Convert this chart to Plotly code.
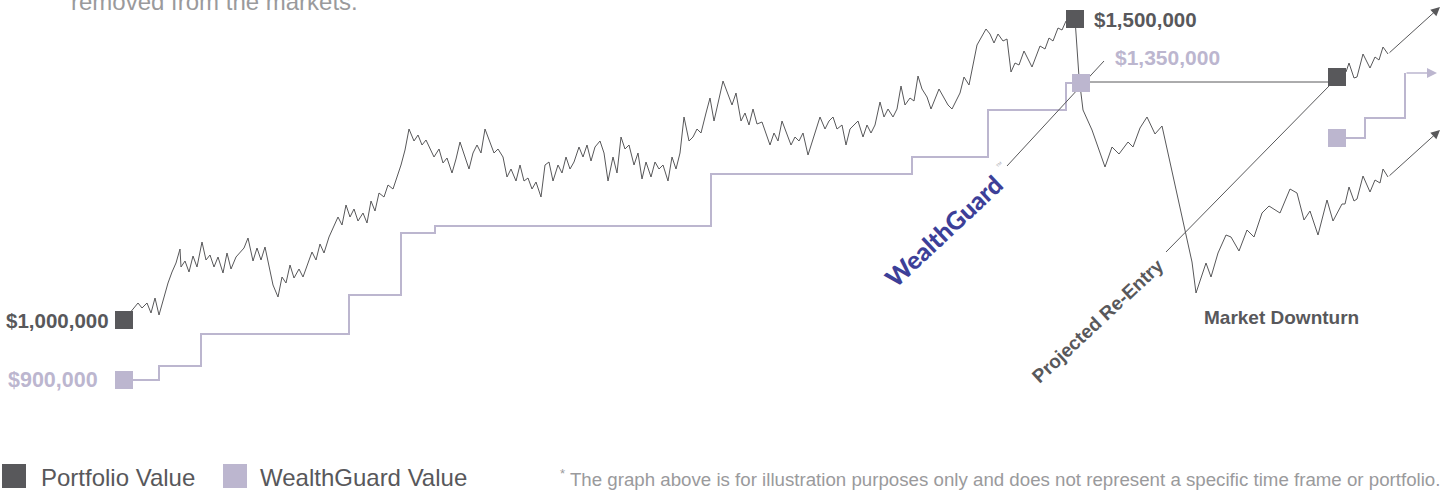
import plotly.graph_objects as go

# ---------------- data (time units across, index level up) ----------------
# Portfolio value path: rise to the peak
pf_t = [124, 138, 142, 147, 151, 155, 159, 163, 168, 172,
        176, 180, 181, 185, 189, 193, 197, 202, 206, 210,
        214, 218, 223, 227, 231, 236, 244, 248, 253, 257,
        261, 265, 269, 273, 278, 282, 286, 290, 294, 299,
        303, 312, 316, 320, 324, 329, 338, 342, 346, 350,
        354, 358, 363, 367, 371, 375, 379, 384, 388, 393,
        397, 401, 405, 409, 414, 418, 422, 426, 434, 439,
        443, 447, 452, 456, 460, 469, 473, 477, 481, 485,
        494, 498, 503, 507, 511, 516, 520, 524, 528, 532,
        536, 541, 545, 549, 553, 558, 562, 566, 570, 574,
        579, 583, 587, 591, 595, 600, 604, 608, 613, 617,
        621, 625, 629, 634, 638, 642, 646, 651, 655, 659,
        663, 668, 672, 676, 680, 684, 689, 693, 697, 701,
        706, 710, 714, 723, 732, 736, 741, 745, 749, 753,
        757, 762, 770, 774, 778, 782, 791, 795, 799, 803,
        808, 820, 825, 829, 833, 837, 842, 846, 850, 858,
        863, 867, 871, 875, 880, 884, 888, 893, 897, 901,
        905, 910, 914, 918, 922, 927, 931, 939, 948, 952,
        960, 964, 969, 977, 986, 990, 994, 998, 1003, 1007,
        1011, 1015, 1019, 1024, 1032, 1040, 1045, 1049, 1053, 1058,
        1062, 1066, 1075]
pf_v = [171, 188, 183, 188, 178, 193, 176, 191, 208, 219,
        228, 242, 224, 230, 219, 235, 224, 249, 231, 236,
        224, 234, 218, 238, 222, 234, 243, 253, 230, 243,
        231, 244, 224, 206, 194, 214, 208, 226, 213, 222,
        214, 239, 231, 247, 238, 254, 274, 266, 286, 274,
        282, 270, 278, 268, 290, 280, 298, 294, 306, 302,
        314, 326, 341, 362, 350, 356, 346, 351, 334, 342,
        328, 333, 318, 332, 349, 322, 338, 346, 338, 362,
        338, 342, 334, 314, 322, 310, 326, 310, 313, 302,
        309, 294, 326, 329, 310, 326, 318, 334, 322, 329,
        344, 334, 346, 330, 344, 350, 338, 310, 334, 318,
        354, 342, 346, 326, 338, 312, 329, 314, 329, 322,
        326, 310, 334, 322, 338, 374, 350, 354, 362, 358,
        378, 393, 370, 410, 386, 398, 370, 378, 366, 382,
        367, 369, 346, 358, 350, 370, 346, 354, 350, 358,
        336, 374, 362, 370, 374, 362, 366, 346, 362, 370,
        354, 366, 358, 366, 389, 374, 382, 374, 382, 405,
        386, 393, 390, 415, 402, 394, 382, 402, 386, 382,
        398, 414, 406, 446, 462, 457, 448, 457, 450, 452,
        419, 428, 426, 440, 424, 445, 442, 453, 450, 463,
        461, 470, 472]

# Portfolio value path: market downturn and slow recovery
dt_t = [1075, 1079, 1083, 1092, 1105, 1112, 1119, 1128, 1133, 1140,
        1147, 1155, 1162, 1192, 1196, 1206, 1211, 1218, 1226, 1231,
        1239, 1247, 1254, 1262, 1269, 1280, 1290, 1297, 1304, 1310,
        1318, 1327, 1333, 1342, 1345, 1349, 1354, 1357, 1363, 1370,
        1375, 1380, 1383, 1388]
dt_v = [472, 414, 381, 361, 324, 344, 337, 349, 344, 363,
        374, 357, 365, 229, 198, 228, 214, 238, 256, 254,
        240, 261, 254, 278, 285, 278, 302, 298, 271, 280,
        256, 291, 270, 287, 287, 304, 290, 292, 315, 299,
        311, 308, 322, 314]
dt_tip = (1440, 361)

# Portfolio after projected re-entry
re_t = [1337, 1346, 1349, 1354, 1357, 1363, 1370, 1375, 1379, 1383, 1388]
re_v = [414, 419, 428, 413, 414, 437, 423, 434, 431, 444, 437]
re_tip = (1440, 484)

# WealthGuard value (step path)
wg_t = [124, 159, 201, 349, 401, 435, 711, 912, 988, 1066, 1081]
wg_v = [111, 125, 157, 196, 258, 265, 317, 334, 381, 408, 408]

# WealthGuard after re-entry
wg2_t = [1337, 1365, 1405]
wg2_v = [353, 373, 418]
wg2_tip = (1437, 418)

# Guide lines
hold_t = [1081, 1337]
hold_v = [409, 409]
wg_ptr_t = [1007, 1104]
wg_ptr_v = [325, 430]
re_ptr_t = [1166, 1330]
re_ptr_v = [239, 406]

# Labels
lbl_start = "$1,000,000"
lbl_wg_start = "$900,000"
lbl_peak = "$1,500,000"
lbl_wg_peak = "$1,350,000"

# ---------------- styling ----------------
DARK = "#58585b"
LIGHT = "#bcb6cf"
LINEC = "#58585a"
GREY = "#9a9a9c"
FONT = "Liberation Sans, Arial, Helvetica, sans-serif"

fig = go.Figure()

def line(x, y, color, width, shape="linear"):
    fig.add_trace(go.Scatter(x=x, y=y, mode="lines", hoverinfo="skip",
                             line=dict(color=color, width=width, shape=shape)))

line(pf_t + dt_t[1:], pf_v + dt_v[1:], LINEC, 1)
line(re_t, re_v, LINEC, 1)
line(wg_t, wg_v, LIGHT, 2, "hv")
line(wg2_t, wg2_v, LIGHT, 2, "hv")
line(hold_t, hold_v, LINEC, 1)
line(wg_ptr_t, wg_ptr_v, LINEC, 1)
line(re_ptr_t, re_ptr_v, LINEC, 1)

# square markers
fig.add_trace(go.Scatter(x=[wg_t[0], wg_t[-1], wg2_t[0]], y=[wg_v[0], wg_v[-1], wg2_v[0]],
                         mode="markers", hoverinfo="skip",
                         marker=dict(symbol="square", size=18, color=LIGHT, line=dict(width=0))))
fig.add_trace(go.Scatter(x=[pf_t[0], pf_t[-1], re_t[0]], y=[pf_v[0], pf_v[-1], re_v[0]],
                         mode="markers", hoverinfo="skip",
                         marker=dict(symbol="square", size=18, color=DARK, line=dict(width=0))))

anns = []

def text(t, x, y, size, color, weight="normal", xanchor="left", yanchor="middle",
         angle=0, family=FONT):
    anns.append(dict(text=t, x=x, y=y, xref="x", yref="y",
                     showarrow=False, xanchor=xanchor, yanchor=yanchor, textangle=angle,
                     font=dict(family=family, size=size, color=color, weight=weight)))

def arrow(tail, tip, color, width, size):
    anns.append(dict(text="", x=tip[0], y=tip[1], ax=tail[0], ay=tail[1],
                     xref="x", yref="y", axref="x", ayref="y", showarrow=True,
                     arrowhead=2, arrowsize=size, arrowwidth=width, arrowcolor=color))

arrow((dt_t[-1], dt_v[-1]), dt_tip, LINEC, 1, 1.8)
arrow((re_t[-1], re_v[-1]), re_tip, LINEC, 1, 1.8)
arrow((wg2_t[-1], wg2_v[-1]), wg2_tip, LIGHT, 1.6, 1.25)

text(lbl_start, 111, pf_v[0], 20.5, DARK, "bold", xanchor="right")
text(lbl_wg_start, 6, wg_v[0], 21.5, LIGHT, "bold")
text(lbl_peak, 1092, pf_v[-1], 20.5, DARK, "bold")
text(lbl_wg_peak, 1113, 434, 21, LIGHT, "bold")
text("Market Downturn", 1202, 174, 19, DARK, "bold")
text("Projected Re-Entry", 1097, 170, 19, DARK, "bold", xanchor="center", angle=-43)
text("WealthGuard", 943, 260, 25, "#3d3f98", 900, xanchor="center", angle=-43,
     family="Lato, Inter, sans-serif")
text("™", 999, 326, 7, "#b0b0b8", "normal", xanchor="center", angle=-43)
text("removed from the markets.", 69, 474, 24, GREY, yanchor="bottom")

# legend
fig.add_shape(type="rect", x0=2, x1=26, y0=3, y1=27, fillcolor=DARK, line=dict(width=0))
fig.add_shape(type="rect", x0=223, x1=247, y0=3, y1=27, fillcolor=LIGHT, line=dict(width=0))
text("Portfolio Value", 39, 14, 24, DARK)
text("WealthGuard Value", 258, 14, 24, DARK)
text("<sup>*</sup> The graph above is for illustration purposes only and does not represent a specific time frame or portfolio.",
     1442, 13, 18.7, GREY, xanchor="right")

fig.update_layout(
    width=1453, height=491, autosize=False,
    margin=dict(l=0, r=0, t=0, b=0, pad=0),
    paper_bgcolor="white", plot_bgcolor="white", showlegend=False,
    xaxis=dict(range=[0, 1453], visible=False, fixedrange=True),
    yaxis=dict(range=[0, 491], visible=False, fixedrange=True),
    annotations=anns,
)

fig.write_html("out.html", config={"displayModeBar": False})
